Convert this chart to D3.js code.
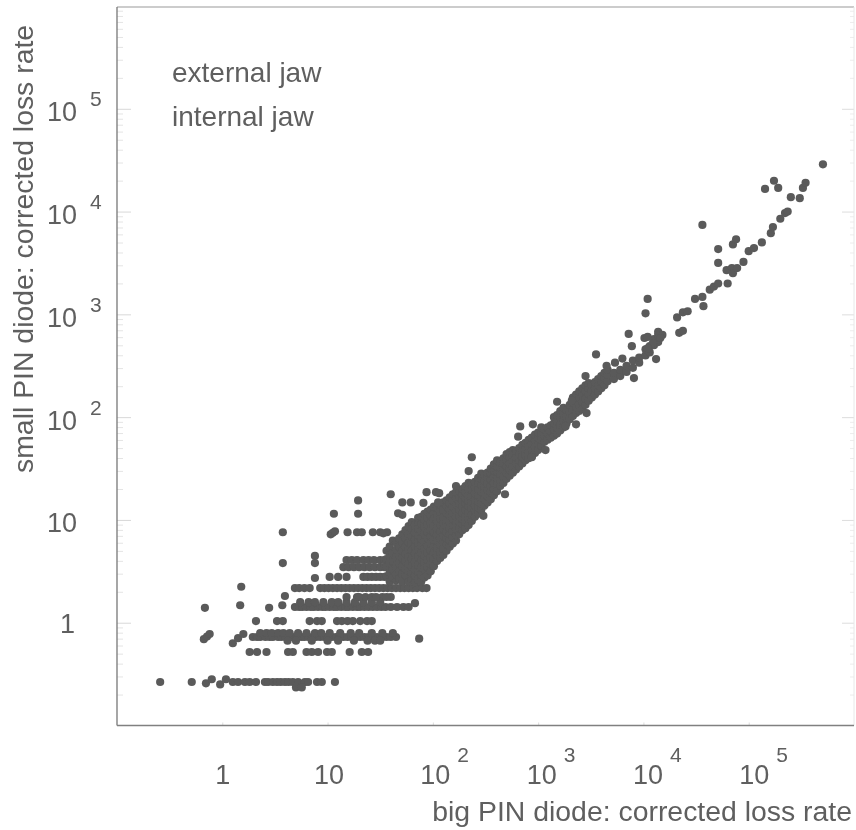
<!DOCTYPE html>
<html><head><meta charset="utf-8">
<script src="https://cdn.jsdelivr.net/npm/d3@7"></script>
<style>
html,body{margin:0;padding:0;background:#fff;overflow:hidden}
svg{display:block}
text{font-family:"Liberation Sans",Arial,sans-serif;fill:#5f5f5f}
</style></head><body>
<svg id="c" width="856" height="830"></svg>
<script>
// All readings are log10(value), taken off the log-log picture.
const xTitle = "big PIN diode: corrected loss rate";
const yTitle = "small PIN diode: corrected loss rate";
const legendLabels = ["external jaw", "internal jaw"];
const majorTicks = [1, 10, 100, 1000, 10000, 100000];
const exponents = [null, null, 2, 3, 4, 5];

// quantised horizontal rows at low count rates: [log10 small, log10 big ...]
const rowA = [-0.577, -0.59,-0.29,0.10,0.15,0.215,0.26,0.32,0.405,0.435,0.48,0.52,0.555,0.595,0.63,0.67,0.72,0.785,0.815,0.90,0.945,1.07];
const rowC = [-0.285, 0.26,0.33,0.42,0.625,0.67,0.80,0.85,0.91,0.995,1.04,1.21,1.325,1.385];
const rowB = [-0.139, 0.29,0.33,0.36,0.41,0.45,0.48,0.53,0.56,0.60,0.64,0.67,0.71,0.75,0.78,0.82,0.86,0.89,0.93,0.97,1.0,1.04,1.08,1.11,1.15,1.19,1.23,1.27,1.31,1.35,1.39,1.43,1.47,1.52,1.56,1.60,1.65];
const rowB2 = [-0.10, 0.36,0.42,0.47,0.53,0.58,0.64,0.72,0.80,0.88,0.94,1.02,1.12,1.22,1.30,1.42,1.52,1.62];
const rowB3 = [-0.175, 0.62,0.70,0.85,1.0,1.1,1.25,1.38,1.45,1.50];
const rowD = [0.016, 0.32,0.52,0.575,0.83,0.90,0.945,1.09,1.135,1.19,1.24,1.31,1.375,1.42];
const rowE = [0.153, 0.69,0.73,0.76,0.80,0.84,0.87,0.91,0.95,0.98,1.02,1.06,1.09,1.13,1.17,1.20,1.24,1.28,1.31,1.35,1.39,1.43,1.47,1.51,1.55,1.60,1.66,1.72,1.77];
const rowE2 = [0.20, 0.74,0.82,0.88,0.96,1.04,1.10,1.18,1.26,1.34,1.42,1.50];
const rowE3 = [0.25, 1.18,1.28,1.36,1.42,1.52,1.60,1.30,1.46,1.56];
const rowF = [0.337, 0.69,0.73,0.78,0.83,0.93,0.97,1.01,1.05,1.09,1.13,1.17,1.21,1.25,1.29,1.33,1.37,1.41,1.45,1.49,1.53,1.57,1.61,1.65,1.69,1.73,1.77,1.81,1.85,1.90,1.94];
const rowG = [0.445, 1.02,1.10,1.18,1.34,1.38,1.42,1.46,1.50,1.54,1.58];
const rowH = [0.54, 1.15,1.20,1.25,1.30,1.35,1.40,1.45,1.50,1.54];
const rowI = [0.61, 1.18,1.23,1.28,1.34,1.39,1.44,1.50,1.54];
const rowJ = [0.88, 1.19,1.28,1.325,1.43,1.50,1.565];

// main band, read column by column: [log10 big, log10 small ...]
const bandColumns = [
 [1.56,.45,.54,.62,.70],
 [1.59,.40,.49,.58,.66,.74],
 [1.62,.44,.52,.60,.68,.80],
 [1.65,.41,.47,.55,.63,.71,.78],
 [1.68,.43,.50,.58,.66,.74,.82],
 [1.71,.40,.47,.55,.63,.70,.78,.86],
 [1.74,.46,.52,.60,.67,.74,.82,.90],
 [1.77,.40,.50,.57,.64,.71,.78,.86,.94],
 [1.80,.42,.48,.55,.62,.70,.77,.84,.92,.98],
 [1.83,.39,.46,.52,.59,.67,.74,.81,.88,.95],
 [1.86,.42,.50,.56,.64,.71,.78,.85,.92,.98,1.02],
 [1.89,.40,.47,.54,.61,.68,.75,.82,.89,.96,1.03],
 [1.92,.44,.52,.58,.65,.72,.79,.86,.93,1.0,1.06],
 [1.95,.46,.54,.61,.68,.75,.82,.88,.95,1.02,1.08],
 [1.98,.50,.57,.63,.70,.77,.84,.90,.97,1.04,1.10],
 [2.01,.55,.62,.68,.75,.81,.88,.94,1.01,1.07,1.13],
 [2.04,.60,.66,.73,.80,.86,.92,.99,1.05,1.12],
 [2.07,.63,.69,.76,.82,.89,.95,1.01,1.08,1.15],
 [2.10,.66,.72,.78,.84,.91,.97,1.03,1.10,1.17],
 [2.13,.70,.76,.82,.88,.94,1.0,1.07,1.13,1.19],
 [2.16,.74,.80,.86,.92,.98,1.04,1.10,1.16,1.22],
 [2.19,.77,.83,.89,.95,1.01,1.07,1.13,1.19,1.25],
 [2.22,.80,.85,.91,.97,1.03,1.09,1.15,1.21,1.27],
 [2.25,.86,.92,.98,1.04,1.10,1.16,1.22,1.28],
 [2.28,.90,.96,1.01,1.07,1.13,1.19,1.25,1.30],
 [2.31,.92,.98,1.04,1.10,1.16,1.21,1.27,1.33],
 [2.34,.95,1.01,1.07,1.13,1.18,1.24,1.30,1.36],
 [2.37,.99,1.05,1.11,1.17,1.23,1.29,1.35],
 [2.40,1.03,1.09,1.14,1.20,1.26,1.32,1.37],
 [2.43,1.06,1.12,1.18,1.24,1.30,1.36,1.41],
 [2.46,1.10,1.16,1.22,1.28,1.34,1.40,1.45],
 [2.49,1.14,1.20,1.26,1.32,1.38,1.44],
 [2.52,1.17,1.23,1.29,1.35,1.41,1.46],
 [2.55,1.20,1.27,1.33,1.39,1.45,1.50],
 [2.58,1.24,1.30,1.36,1.42,1.48,1.54],
 [2.61,1.28,1.35,1.41,1.47,1.52,1.58],
 [2.64,1.33,1.39,1.45,1.51,1.56],
 [2.67,1.36,1.43,1.49,1.55,1.60],
 [2.70,1.40,1.46,1.52,1.58,1.64],
 [2.73,1.43,1.49,1.55,1.61,1.66],
 [2.76,1.46,1.52,1.58,1.63,1.68],
 [2.79,1.49,1.55,1.61,1.67],
 [2.82,1.52,1.58,1.64,1.70],
 [2.85,1.55,1.61,1.67,1.73],
 [2.88,1.58,1.63,1.69,1.75],
 [2.91,1.60,1.66,1.72,1.78],
 [2.94,1.62,1.68,1.74,1.80],
 [2.97,1.65,1.71,1.77,1.83],
 [3.00,1.68,1.74,1.80,1.85],
 [3.03,1.72,1.78,1.84,1.90],
 [3.06,1.76,1.82,1.88],
 [3.09,1.78,1.84,1.90],
 [3.12,1.80,1.86,1.92],
 [3.15,1.82,1.88,1.94,2.0],
 [3.18,1.84,1.90,1.96,2.02],
 [3.21,1.87,1.93,2.0,2.06],
 [3.24,1.90,1.96,2.03,2.09],
 [3.27,1.94,2.0,2.07],
 [3.30,1.98,2.05,2.12],
 [3.33,2.01,2.07,2.14,2.19],
 [3.36,2.04,2.10,2.16,2.22],
 [3.39,2.06,2.12,2.19,2.25],
 [3.42,2.08,2.15,2.22,2.28],
 [3.45,2.12,2.18,2.25,2.31],
 [3.48,2.16,2.22,2.28,2.33],
 [3.51,2.19,2.25,2.31],
 [3.54,2.22,2.28,2.34],
 [3.57,2.25,2.31,2.37],
 [3.60,2.28,2.35,2.40],
 [3.63,2.31,2.38,2.43],
 [3.66,2.35,2.41,2.46],
 [3.72,2.37,2.43],
 [3.78,2.40,2.46],
 [3.84,2.44,2.50],
 [3.90,2.48,2.55],
 [3.96,2.53,2.58],
 [4.02,2.60,2.66],
 [4.06,2.63,2.69],
 [4.10,2.70,2.76],
 [4.14,2.73,2.80]
];

// individual points: [log10 big, log10 small]
const scatterPoints = [
 [-0.155,-0.59],[-0.10,-0.55],[-0.02,-0.60],[0.035,-0.55],[0.70,-0.63],[0.755,-0.63],
 [-0.175,-0.16],[-0.145,-0.135],[-0.12,-0.11],[0.10,-0.20],[0.15,-0.15],[0.20,-0.11],[1.87,-0.155],
 [-0.165,0.145],[0.17,0.17],[0.445,0.145],[0.57,0.17],[1.83,0.19],
 [0.595,0.26],[0.18,0.35],[0.88,0.435],[0.575,0.58],[0.88,0.65],[0.88,0.58],[0.575,0.88],
 [1.06,1.06],[1.29,1.06],[1.29,1.19],[1.60,1.25],[1.71,1.17],[1.79,1.17],[1.67,1.065],[1.71,1.05],
 [1.94,1.27],[1.91,1.165],[1.03,0.86],[1.05,0.875],[1.07,0.89],[1.53,0.87],[2.03,1.27],[2.06,1.26],[2.05,1.17],
 [2.22,1.33],[2.37,1.61],[2.34,1.475],[2.48,1.04],[2.685,1.25],[2.83,1.91],[2.81,1.81],[2.95,1.93],
 [3.07,1.68],[2.94,1.61],[3.18,2.15],[3.32,2.16],[3.45,2.40],[3.26,1.91],[3.36,1.93],[3.46,2.04],
 [3.55,2.61],[3.65,2.50],[3.73,2.53],[3.80,2.57],[3.86,2.81],[3.89,2.69],[4.02,3.01],[4.04,3.15],
 [3.91,2.38],[4.12,2.565],[4.01,2.77],[4.04,2.78],[4.14,2.83],[4.18,2.80],[4.16,2.77],[4.09,2.72],[4.04,2.67],
 [4.32,2.97],[4.375,3.02],[4.42,3.03],[4.34,2.82],[4.375,2.84],[4.49,3.15],[4.56,3.17],[4.57,3.08],
 [4.63,3.24],[4.67,3.27],[4.71,3.30],[4.80,3.30],[4.79,3.43],[4.84,3.45],[4.85,3.40],[4.89,3.45],[4.95,3.51],
 [4.71,3.50],[4.71,3.635],[4.85,3.68],[4.88,3.73],[4.56,3.87],[5.0,3.615],[5.05,3.645],[5.125,3.70],
 [5.21,3.79],[5.23,3.85],[5.30,3.93],[5.345,3.985],[5.37,4.0],[5.40,4.14],[5.485,4.13],[5.515,4.23],[5.54,4.28],
 [5.155,4.22],[5.24,4.30],[5.28,4.23],[5.705,4.46]
];

const horizontalRows = [rowA,rowC,rowB,rowB2,rowB3,rowD,rowE,rowE2,rowE3,rowF,rowG,rowH,rowI,rowJ];
const points = [
  ...horizontalRows.flatMap(([ly,...lxs]) => lxs.map(lx => [10**lx, 10**ly])),
  ...bandColumns.flatMap(([lx,...lys]) => lys.map(ly => [10**lx, 10**ly])),
  ...scatterPoints.map(([lx,ly]) => [10**lx, 10**ly])
];

const W=856,H=830, L=117,R=854,T=7,B=725.5;
const x = d3.scaleLog().domain([0.1,1e6]).range([L,R]);
const y = d3.scaleLog().domain([0.1,1e6]).range([B,T-1]);
const xLabel = d3.scaleLog().domain([0.1,1e6]).range([116,860]); // printed labels drift slightly from the ticks
const svg = d3.select("#c");

const defs = svg.append("defs");
defs.append("filter").attr("id","scan").attr("x","-5%").attr("y","-5%").attr("width","110%").attr("height","110%")
  .append("feGaussianBlur").attr("stdDeviation",0.6);
defs.append("filter").attr("id","scanText").attr("x","-5%").attr("y","-20%").attr("width","110%").attr("height","140%")
  .append("feGaussianBlur").attr("stdDeviation",0.4);

// frame
const minor = d3.range(-1,6).flatMap(e => [2,3,4,5,6,7,8,9].map(m => m*10**e));
function faint(c){ return g => { g.select(".domain").remove(); g.selectAll("line").attr("stroke",c); g.selectAll("text").remove(); }; }
svg.append("g").attr("transform",`translate(${L},0)`).call(d3.axisRight(y).tickValues(majorTicks).tickSize(14)).call(faint("#d8d8d8"));
svg.append("g").attr("transform",`translate(${L},0)`).call(d3.axisRight(y).tickValues(minor).tickSize(6)).call(faint("#e4e4e4"));
svg.append("g").attr("transform",`translate(${R},0)`).call(d3.axisLeft(y).tickValues(majorTicks).tickSize(12)).call(faint("#dddddd"));
svg.append("g").attr("transform",`translate(${R},0)`).call(d3.axisLeft(y).tickValues(minor).tickSize(4)).call(faint("#ececec"));
svg.append("g").attr("transform",`translate(0,${B})`).call(d3.axisTop(x).tickValues(majorTicks).tickSize(3)).call(faint("#dddddd"));
svg.append("line").attr("x1",L).attr("x2",R).attr("y1",T).attr("y2",T).attr("stroke","#999").attr("stroke-width",1.2);
svg.append("line").attr("x1",R).attr("x2",R).attr("y1",T).attr("y2",B).attr("stroke","#e8e8e8").attr("stroke-width",1);
svg.append("line").attr("x1",L).attr("x2",L).attr("y1",T).attr("y2",B).attr("stroke","#777").attr("stroke-width",1.3);
svg.append("line").attr("x1",L).attr("x2",R).attr("y1",B).attr("y2",B).attr("stroke","#808080").attr("stroke-width",1.3);

// points
svg.append("g").attr("filter","url(#scan)").selectAll("circle").data(points).join("circle")
  .attr("cx",d=>x(d[0])).attr("cy",d=>y(d[1])).attr("r",4.1).attr("fill","#5a5a5a");

const labels = svg.append("g").attr("filter","url(#scanText)");
// x tick labels
const gx = labels.append("g").attr("transform",`translate(0,${B})`)
  .call(d3.axisBottom(x).tickValues(majorTicks).tickSize(0).tickPadding(39)
    .tickFormat(d => d===1 ? "1" : "10"));
gx.select(".domain").remove();
gx.selectAll("text").attr("font-size",27).attr("dx",d=>xLabel(d)-x(d));
gx.selectAll(".tick").each(function(d,i){
  if(exponents[i]===null) return;
  d3.select(this).append("text").text(exponents[i]).attr("text-anchor","start")
    .attr("x",xLabel(d)-x(d)+22).attr("y",36.5).attr("font-size",21);
});
// y tick labels
const gy = labels.append("g").attr("transform",`translate(${L},0)`)
  .call(d3.axisLeft(y).tickValues(majorTicks).tickSize(0).tickPadding(40)
    .tickFormat(d => d===1 ? "1" : "10"));
gy.select(".domain").remove();
gy.selectAll("text").attr("font-size",27).attr("dy",d=>d===1?9.5:12).attr("dx",d=>d===1?-2:0);
gy.selectAll(".tick").each(function(d,i){
  if(exponents[i]===null) return;
  d3.select(this).append("text").text(exponents[i]).attr("text-anchor","start")
    .attr("x",-27).attr("y",-3).attr("font-size",21);
});
// titles
labels.append("text").text(xTitle).attr("x",852).attr("y",821).attr("text-anchor","end").attr("font-size",28.4);
labels.append("text").text(yTitle).attr("transform","translate(33,473) rotate(-90)").attr("font-size",28.4);
// legend text
labels.selectAll("text.leg").data(legendLabels).join("text").attr("class","leg")
  .text(d=>d).attr("x",172).attr("y",(d,i)=>82+i*44).attr("font-size",28);
</script>
</body></html>
